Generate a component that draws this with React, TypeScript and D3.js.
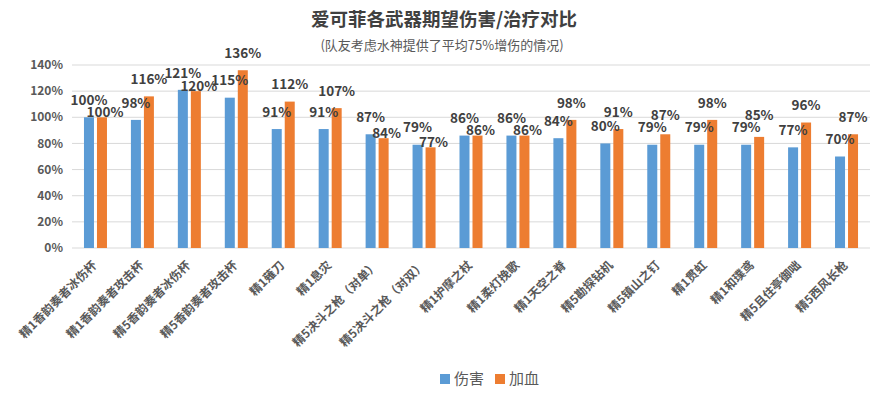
import React, { useEffect, useRef } from "react";
import * as d3 from "d3";

const categories = [
  "精1香韵奏者冰伤杯",
  "精1香韵奏者攻击杯",
  "精5香韵奏者冰伤杯",
  "精5香韵奏者攻击杯",
  "精1薙刀",
  "精1息灾",
  "精5决斗之枪（对单）",
  "精5决斗之枪（对双）",
  "精1护摩之杖",
  "精1柔灯挽歌",
  "精1天空之脊",
  "精5勘探钻机",
  "精5镇山之钉",
  "精1贯虹",
  "精1和璞鸢",
  "精5且住亭御咄",
  "精5西风长枪",
];
const damage = [100, 98, 121, 115, 91, 91, 87, 79, 86, 86, 84, 80, 79, 79, 79, 77, 70];
const healing = [100, 116, 120, 136, 112, 107, 84, 77, 86, 86, 98, 91, 87, 98, 85, 96, 87];
const yTicks = [0, 20, 40, 60, 80, 100, 120, 140];
const seriesNames = ["伤害", "加血"];
const colors = ["#5B9BD5", "#ED7D31"];

const FONT = "'Noto Sans CJK SC', 'Noto Sans', sans-serif";

export default function App() {
  const ref = useRef<SVGSVGElement>(null);

  useEffect(() => {
    const width = 885;
    const height = 399;
    const margin = { top: 65, right: 15, bottom: 151, left: 72 };
    const svg = d3.select(ref.current);
    svg.selectAll("*").remove();

    const x = d3
      .scaleBand()
      .domain(categories)
      .range([margin.left, width - margin.right]);
    const y = d3
      .scaleLinear()
      .domain([0, 140])
      .range([height - margin.bottom, margin.top]);

    // title
    svg
      .append("text")
      .attr("x", 444)
      .attr("y", 26)
      .attr("text-anchor", "middle")
      .attr("font-family", FONT)
      .attr("font-weight", "bold")
      .attr("font-size", 18.5)
      .attr("fill", "#404040")
      .text("爱可菲各武器期望伤害/治疗对比");
    svg
      .append("text")
      .attr("x", 442)
      .attr("y", 50)
      .attr("text-anchor", "middle")
      .attr("font-family", FONT)
      .attr("font-size", 13)
      .attr("fill", "#595959")
      .text("(队友考虑水神提供了平均75%增伤的情况)");

    // grid
    svg
      .append("g")
      .selectAll("line")
      .data(yTicks)
      .join("line")
      .attr("x1", margin.left)
      .attr("x2", width - margin.right)
      .attr("y1", (d) => y(d))
      .attr("y2", (d) => y(d))
      .attr("stroke", "#D9D9D9")
      .attr("stroke-width", 1);

    svg
      .append("g")
      .selectAll("text")
      .data(yTicks)
      .join("text")
      .attr("x", 63)
      .attr("y", (d) => y(d))
      .attr("dy", "0.35em")
      .attr("text-anchor", "end")
      .attr("font-family", FONT)
      .attr("font-weight", "bold")
      .attr("font-size", 12)
      .attr("fill", "#595959")
      .text((d) => d + "%");

    const barW = 10;
    const gap = 3;
    const cx = (c: string) => (x(c) as number) + x.bandwidth() / 2;

    const series = [damage, healing];
    series.forEach((vals, si) => {
      svg
        .append("g")
        .selectAll("rect")
        .data(vals)
        .join("rect")
        .attr("x", (d, i) =>
          si === 0 ? cx(categories[i]) - gap / 2 - barW : cx(categories[i]) + gap / 2
        )
        .attr("y", (d) => y(d))
        .attr("width", barW)
        .attr("height", (d) => y(0) - y(d))
        .attr("fill", colors[si]);
    });

    // data labels (simple collision handling like Excel's)
    const labels = svg
      .append("g")
      .attr("font-family", FONT)
      .attr("font-weight", "bold")
      .attr("font-size", 13.5)
      .attr("fill", "#404040")
      .attr("text-anchor", "middle");
    categories.forEach((c, i) => {
      const bx = cx(c) - gap / 2 - barW / 2;
      const ox = cx(c) + gap / 2 + barW / 2;
      const by = y(damage[i]) - 17;
      let oy = y(healing[i]) - 17;
      let ox2 = ox;
      const dist = by - oy;
      if (Math.abs(dist) < 5) {
        oy = y(healing[i]) - 5;
        ox2 = ox + 3;
      } else if (dist > 0 && dist < 12) {
        oy = by - 12;
      }
      labels.append("text").attr("x", bx).attr("y", by).attr("dy", "0.35em").text(damage[i] + "%");
      labels.append("text").attr("x", ox2).attr("y", oy).attr("dy", "0.35em").text(healing[i] + "%");
    });

    // x labels
    svg
      .append("g")
      .selectAll("text")
      .data(categories)
      .join("text")
      .attr("transform", (d) => `translate(${cx(d) + 2},${y(0) + 18}) rotate(-45)`)
      .attr("text-anchor", "end")
      .attr("font-family", FONT)
      .attr("font-weight", "bold")
      .attr("font-size", 12)
      .attr("fill", "#595959")
      .text((d) => d);

    // legend
    const legend = svg.append("g").attr("transform", "translate(440,379)");
    seriesNames.forEach((name, i) => {
      const g = legend.append("g").attr("transform", `translate(${i * 55},0)`);
      g.append("rect").attr("x", 0).attr("y", -5).attr("width", 10).attr("height", 10).attr("fill", colors[i]);
      g.append("text")
        .attr("x", 14)
        .attr("y", 0)
        .attr("dy", "0.35em")
        .attr("font-family", FONT)
        .attr("font-size", 15)
        .attr("fill", "#595959")
        .text(name);
    });
  }, []);

  return (
    <svg
      ref={ref}
      width={885}
      height={399}
      style={{ position: "absolute", left: 0, top: 0, background: "#fff" }}
    />
  );
}
